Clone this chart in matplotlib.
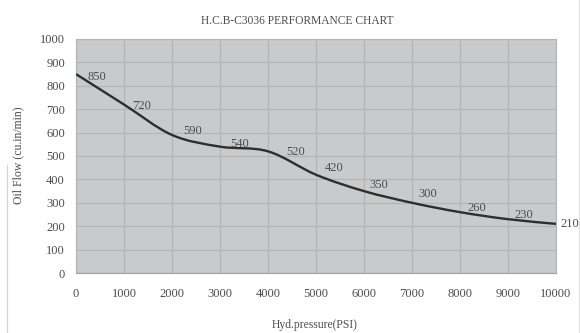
import numpy as np
import matplotlib.pyplot as plt
from matplotlib.path import Path
from matplotlib.patches import PathPatch

# débit d'huile en fonction de la pression
pression = [0, 1000, 2000, 3000, 4000, 5000, 6000, 7000, 8000, 9000, 10000]
debit = [850, 720, 590, 540, 520, 420, 350, 300, 260, 230, 210]
ticks_x = list(range(0, 10001, 1000))
ticks_y = list(range(0, 1001, 100))

# décalage des étiquettes (pixels : droite, haut)
decal = [(12, 3), (8, 1), (11, -4), (10, -3), (18, 1), (9, -7),
         (5, -6), (6, -9), (7, -4), (6, -4), (4, 0)]

plt.rcParams['font.family'] = ['Liberation Serif', 'DejaVu Serif']
gris_texte = '#4d4d4d'

fig = plt.figure(figsize=(5.8, 3.33), dpi=100)
ax = fig.add_axes([76/580, 1 - 273/333, 480/580, 234/333])
ax.set_facecolor('#c9cacc')

# courbe lissée (bezier type tableur) à partir des points
xs = np.array(pression, dtype=float)
ys = np.array(debit, dtype=float)
verts = [(xs[0], ys[0])]
codes = [Path.MOVETO]
t = 0.5 / 3
for i in range(len(xs) - 1):
    x0, y0 = xs[max(i - 1, 0)], ys[max(i - 1, 0)]
    x1, y1 = xs[i], ys[i]
    x2, y2 = xs[i + 1], ys[i + 1]
    x3, y3 = xs[min(i + 2, len(xs) - 1)], ys[min(i + 2, len(xs) - 1)]
    c1 = (x1 + t * (x2 - x0), y1 + t * (y2 - y0))
    c2 = (x2 - t * (x3 - x1), y2 - t * (y3 - y1))
    verts += [c1, c2, (x2, y2)]
    codes += [Path.CURVE4] * 3
ax.add_patch(PathPatch(Path(verts, codes), facecolor='none',
                       edgecolor='#2e2e2e', lw=1.7, zorder=3))

# étiquettes de valeur
for (x, y), (dx, dy) in zip(zip(pression, debit), decal):
    ax.annotate(str(y), (x, y), xytext=(dx * 0.72, -dy * 0.72),
                textcoords='offset points', ha='left', va='center',
                fontsize=9, color=gris_texte, annotation_clip=False)

ax.set_xlim(0, 10000)
ax.set_ylim(0, 1000)
ax.set_xticks(ticks_x)
ax.set_yticks(ticks_y)
ax.grid(True, color='#b3b4b6', lw=0.8)
ax.set_axisbelow(True)
ax.tick_params(length=0, labelsize=9, colors=gris_texte)
ax.tick_params(axis='x', pad=11)
ax.tick_params(axis='y', pad=8)
for s in ax.spines.values():
    s.set_color('#b3b4b6')
    s.set_linewidth(0.8)
ax.spines['bottom'].set_color('#a0a0a0')

fig.text(297/580, 1 - 21/333, 'H.C.B-C3036 PERFORMANCE CHART', ha='center',
         va='center', fontsize=8.3, color=gris_texte)
fig.text(315/580, 1 - 325/333, 'Hyd.pressure(PSI)', ha='center', va='center',
         fontsize=8.4, color=gris_texte)
fig.text(18/580, 1 - 155/333, 'Oil Flow (cu.in/min)', ha='center', va='center',
         rotation=90, fontsize=8.5, color=gris_texte)

# cadre léger sur les bords
fig.add_artist(plt.Line2D([7/580, 7/580], [0, 1 - 165/333], color='#d5d5d5', lw=0.8))
fig.add_artist(plt.Line2D([579/580, 579/580], [0, 1], color='#e0e0e0', lw=0.8))

fig.savefig('out.png', dpi=100)
